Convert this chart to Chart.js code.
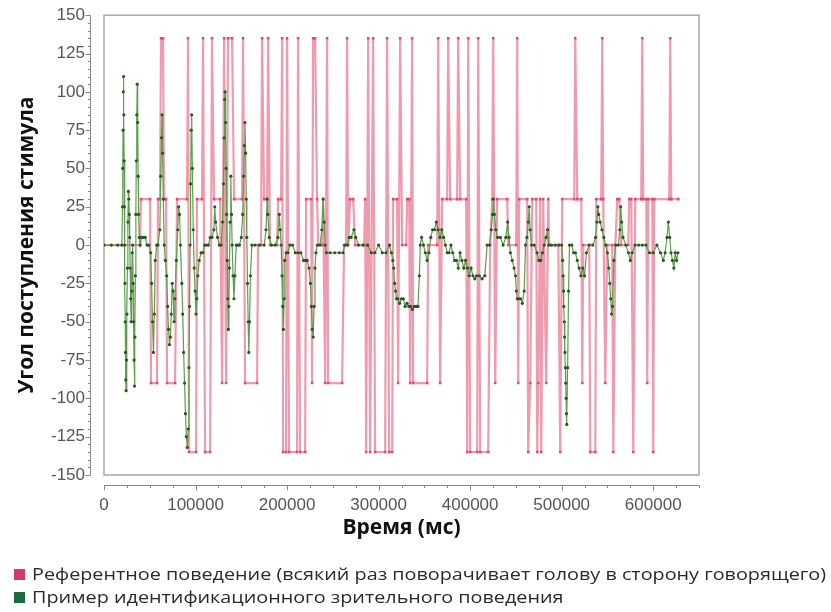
<!DOCTYPE html>
<html><head><meta charset="utf-8">
<script src="https://cdn.jsdelivr.net/npm/chart.js@4/dist/chart.umd.min.js"></script>
<style>html,body{margin:0;padding:0;background:#fff}#wrap{width:831px;height:612px;position:relative}</style>
</head><body><div id="wrap"><canvas id="c" width="831" height="612"></canvas></div>
<script>
// ---- data (time in ms, angle in degrees) ----
const seriesLabels = [
  'Референтное поведение (всякий раз поворачивает голову в сторону говорящего)',
  'Пример идентификационного зрительного поведения'
];
const xTitle = 'Время (мс)';
const yTitle = 'Угол поступления стимула';
const xTickValues = [0, 100000, 200000, 300000, 400000, 500000, 600000];
const yTickValues = [-150, -125, -100, -75, -50, -25, 0, 25, 50, 75, 100, 125, 150];

const refTimes = [0,39300,40400,50300,51400,57900,59000,61200,62300,64500,65600,67800,68900,77600,79800,90700,91800,92900,100600,101600,
  107100,108200,110400,115900,118000,120200,126800,129000,131200,133400,135500,139900,142100,150800,151900,154100,167200,168300,171600,172700,
  174900,178200,179300,181400,189100,190200,193500,194600,195600,198900,200000,202200,210900,212000,214200,219700,220800,226300,227300,228400,
  230600,232800,234000,238300,239400,241600,243700,244800,260100,262300,264500,265600,266700,268900,272200,274300,284200,285300,286400,288600,
  290700,294000,296200,307100,309300,311500,314800,315900,320200,321300,323500,325700,330100,331200,333400,334500,336600,337700,353000,354100,
  364000,365100,367200,369400,374900,376000,378200,385800,386900,389100,395700,396800,397900,400000,407700,408800,411000,419700,421900,424100,
  425200,427400,429500,440500,441600,450300,451400,452500,453600,462300,463400,465600,467800,472200,473300,474400,476500,477600,479800,483100,
  485300,486400,496300,498400,500600,513700,514800,517000,521400,522500,523500,530100,531200,536700,537800,543200,544300,545400,547600,549800,
  555200,556400,558600,560700,562900,565100,572700,573800,576000,578200,580400,586900,588000,589100,592400,593500,594600,599000,600000,601100,
  617500,618600,619700,627400];
const refAngles = [0,0,30,30,-90,-90,30,30,135,135,30,30,-90,-90,30,30,135,-135,-135,30,
  30,135,-135,-135,135,30,30,-90,135,-90,135,135,30,30,135,-90,-90,0,0,135,
  30,30,135,0,0,30,30,135,-135,-135,135,-135,-135,135,-135,-135,30,30,-90,135,
  135,30,0,0,30,-90,135,-90,-90,0,0,135,0,30,30,0,0,30,-135,135,
  -135,135,-135,-135,135,-135,-135,30,30,-90,135,0,0,30,30,-90,135,-90,-90,0,
  0,135,-90,30,30,135,30,30,135,30,30,-135,135,-135,-135,135,-135,-135,0,30,
  135,-90,30,30,0,0,135,-90,30,30,-135,-90,30,30,-135,-90,30,-135,30,-90,
  30,0,0,-135,30,30,135,30,30,-90,0,0,-135,-135,30,30,135,30,-90,0,
  0,-135,0,30,30,0,0,30,30,-135,30,30,135,30,30,-90,30,30,-135,30,
  30,135,30,30];

const gazeTimes = [0,8000,15000,19500,20200,20500,20800,21100,21400,21700,22000,22300,22600,22900,23200,23500,23800,24100,24600,25100,
  25600,26100,26600,27100,27600,28100,28600,29100,29600,30200,30800,31300,31800,32300,32800,33300,33800,34300,34800,35300,
  35800,36300,36800,37300,37800,38500,39500,41000,43000,45000,47000,49000,51000,52000,53000,54000,55000,56000,57500,59000,
  61000,62000,62800,63400,64000,64800,65800,67000,68500,69500,70500,71500,72500,73500,74500,75500,76500,77500,79000,80500,
  81500,82500,83500,85000,86000,87000,88000,89000,90000,91000,92000,92800,93500,94000,94600,95200,95800,96500,97500,98500,
  99500,100500,101500,102500,104000,106000,108000,110000,112000,114000,116000,118000,120000,121000,122000,124000,126000,128000,129500,130500,
  131200,131800,132300,132800,133400,134000,134600,135200,135800,136400,137000,137700,138500,139300,140000,141000,142000,143000,144500,146000,
  148000,150000,151500,152500,153300,154000,154700,155400,156000,156800,157500,158200,159000,160000,161500,165000,170000,175000,177000,178200,
  179000,180500,183000,187000,190000,191500,192500,193500,194500,195300,196000,196800,197500,199000,201000,203000,206000,209000,212000,215000,
  218000,220000,222000,224000,225500,226500,227500,228500,229500,230500,231500,233000,236000,238000,239400,240500,241600,243000,247000,252000,
  257000,261000,263000,266000,268000,270000,273000,275000,278000,283000,288000,292000,296000,300000,304000,308000,312000,314000,315500,316500,
  317500,318500,319500,321000,323000,325000,327000,329000,331000,333000,335000,337000,339000,341000,343000,344500,345500,347000,349000,351000,
  353000,355000,357000,359000,361000,363000,365000,367000,369000,371000,373000,375000,377000,379000,381000,383000,385000,387000,389000,391000,
  393000,395000,397000,399000,401000,403000,405000,407000,410000,413000,416000,418500,421000,423000,424500,425500,426500,428000,430000,433000,
  436000,439000,441000,442500,444000,446000,448000,449500,450500,451500,453000,455000,457000,459000,460500,462000,463500,464500,465500,467000,
  470000,473000,475000,477000,479000,481000,483000,484500,486000,489000,493000,497000,500000,501000,501500,502000,502400,502800,503200,503600,
  504000,504400,504800,505200,505600,506500,507500,508500,511000,513000,515000,517000,519000,521000,523000,525000,527000,530000,534000,537000,
  538500,539500,540500,542000,544000,546000,548000,550000,551500,552500,553500,554500,555500,557000,559000,562000,563500,564500,565500,567000,
  570000,573000,575000,577000,580000,584000,588000,592000,596000,600000,604000,608000,611000,613000,615000,616500,618000,619500,621000,622500,
  624000,625500,627000];
const gazeAngles = [0,0,0,0,25,50,75,100,110,85,55,25,0,-25,-50,-70,-88,-95,-75,-45,
  -15,15,35,30,20,5,-15,-35,-50,-30,-5,0,-25,-50,-75,-92,-60,-20,20,55,
  85,105,80,45,20,5,0,5,5,5,0,0,-5,-25,-50,-70,-45,-10,0,0,
  10,45,70,85,60,30,0,-10,-20,-40,-55,-65,-60,-45,-25,-30,-50,-35,-10,10,
  25,20,0,-25,-45,-70,-90,-110,-125,-132,-120,-80,-40,0,40,75,85,50,10,-15,
  -30,-45,-35,-20,-10,-5,-5,0,0,0,5,5,10,25,15,5,0,0,15,40,
  70,95,100,80,50,20,-10,-35,-55,-40,-15,15,45,20,0,-20,-35,-20,0,0,
  0,5,20,45,65,80,60,30,5,-25,-50,-70,-50,-20,0,0,0,0,10,30,
  20,5,0,0,5,20,10,0,-20,-40,-55,-35,-10,-5,-5,0,0,-5,-5,-5,
  -10,-10,-10,-15,-25,-40,-55,-60,-40,-15,-5,0,0,10,30,15,0,-5,-5,-5,
  -5,-5,0,0,5,5,10,5,0,0,0,-5,-5,0,-5,-5,0,-5,-10,-15,
  -25,-30,-35,-35,-38,-35,-35,-40,-38,-40,-40,-42,-40,-40,-40,-20,0,5,0,-5,
  -10,-5,5,10,10,15,10,5,10,5,0,-5,-5,0,-5,-10,-10,-15,-5,-10,
  -15,-10,-15,-20,-15,-20,-22,-20,-20,-22,-20,0,0,10,20,30,20,10,5,5,
  0,5,15,5,-5,-10,-15,-20,-30,-35,-35,-35,-38,-30,0,5,15,25,10,0,
  0,-5,-10,-10,-5,0,5,10,0,0,0,0,0,-10,-20,-30,-40,-50,-60,-70,
  -80,-90,-100,-110,-117,-80,-30,0,0,-5,-5,-10,-15,-20,-15,-20,-5,0,0,5,
  15,25,20,15,10,5,0,-5,-15,-25,-35,-45,-40,-10,0,0,10,25,15,5,
  0,-5,-10,-5,0,0,0,0,-5,-5,0,-5,-10,-5,5,15,5,-5,-10,-15,
  -5,-10,-5];

// ---- styles ----
const refLine = 'rgba(234,112,138,0.7)';
const refMark = '#e04a68';
const gazeLine = '#5c9e4e';
const gazeMark = '#2a5524';
const legendColors = ['#d23a6a', '#1d6b3d'];

const PLOT = {left: 104, top: 15, bottom: 475, right: 699};
const PAD_BOTTOM = 67;
const tickFont = {family: '"Liberation Sans", Arial, sans-serif', size: 17};

const axesPlugin = {
  id: 'jmpAxes',
  beforeDatasetsDraw(chart) {
    const {ctx, chartArea: a} = chart;
    ctx.save();
    ctx.strokeStyle = '#a8a8a8';
    ctx.lineWidth = 1.5;
    ctx.strokeRect(a.left, a.top, a.right - a.left, a.bottom - a.top);
    ctx.restore();
  },
  afterDraw(chart) {
    const {ctx, chartArea: a, scales: {x, y}} = chart;
    ctx.save();
    ctx.strokeStyle = '#888';
    ctx.lineWidth = 1;
    const ax = a.left - 14;
    ctx.beginPath();
    ctx.moveTo(ax + 0.5, y.getPixelForValue(150));
    ctx.lineTo(ax + 0.5, y.getPixelForValue(-150));
    for (let v = -150; v <= 150; v += 5) {
      const py = Math.round(y.getPixelForValue(v)) + 0.5;
      const len = v % 25 === 0 ? 5 : 2.5;
      ctx.moveTo(ax + 0.5, py);
      ctx.lineTo(ax + 0.5 - len, py);
    }
    ctx.stroke();
    const ay = a.bottom + 10;
    ctx.beginPath();
    ctx.moveTo(x.getPixelForValue(0), ay + 0.5);
    ctx.lineTo(x.getPixelForValue(650000), ay + 0.5);
    for (let v = 0; v <= 650000; v += 25000) {
      const px = Math.round(x.getPixelForValue(v)) + 0.5;
      const len = v % 100000 === 0 ? 5 : 2.5;
      ctx.moveTo(px, ay + 0.5);
      ctx.lineTo(px, ay + 0.5 + len);
    }
    ctx.stroke();
    ctx.restore();
  }
};

const legendPlugin = {
  id: 'bottomLegend',
  afterDraw(chart) {
    const {ctx} = chart;
    const rows = [575, 598];
    ctx.save();
    ctx.font = '16px "Open Sans"';
    ctx.textBaseline = 'middle';
    const sx = 794 / ctx.measureText(seriesLabels[0]).width;
    chart.data.datasets.forEach((ds, i) => {
      const yy = rows[i];
      ctx.fillStyle = legendColors[i];
      ctx.fillRect(14, yy - 6, 11, 11);
      ctx.fillStyle = '#2a2a2a';
      ctx.save();
      ctx.translate(32, yy);
      ctx.scale(sx, 1);
      ctx.fillText(ds.label, 0, 0);
      ctx.restore();
    });
    ctx.restore();
  }
};

new Chart(document.getElementById('c'), {
  type: 'scatter',
  data: {
    datasets: [
      {
        label: seriesLabels[0],
        data: refTimes.map((t, i) => ({x: t, y: refAngles[i]})),
        showLine: true,
        borderColor: refLine,
        borderWidth: 2.2,
        pointStyle: 'rect',
        pointRadius: 1.8,
        pointBackgroundColor: refMark,
        pointBorderWidth: 0,
        order: 2
      },
      {
        label: seriesLabels[1],
        data: gazeTimes.map((t, i) => ({x: t, y: gazeAngles[i]})),
        showLine: true,
        borderColor: gazeLine,
        borderWidth: 1.2,
        pointRadius: 1.6,
        pointBackgroundColor: gazeMark,
        pointBorderWidth: 0,
        order: 1
      }
    ]
  },
  options: {
    responsive: false,
    animation: false,
    devicePixelRatio: 1,
    layout: {padding: {left: 4, top: PLOT.top, right: 831 - PLOT.right, bottom: PAD_BOTTOM}},
    plugins: {legend: {display: false}, tooltip: {enabled: false}},
    scales: {
      x: {
        type: 'linear',
        min: 0, max: 650000,
        afterBuildTicks(s) { s.ticks = xTickValues.map(v => ({value: v})); },
        afterFit(s) { s.height = 612 - PAD_BOTTOM - PLOT.bottom; },
        ticks: {
          includeBounds: false,
          padding: 5,
          maxRotation: 0,
          autoSkip: false,
          color: '#555',
          font: tickFont,
          callback: v => String(v)
        },
        grid: {drawOnChartArea: false, drawTicks: true, tickLength: 15, tickColor: 'rgba(0,0,0,0)'},
        border: {display: false},
        title: {display: true, text: xTitle, color: '#111', padding: {top: 0, bottom: 4},
          font: {family: '"Open Sans", sans-serif', size: 21, weight: 'bold'}}
      },
      y: {
        min: -150, max: 150,
        afterBuildTicks(s) { s.ticks = yTickValues.map(v => ({value: v})); },
        afterFit(s) { s.width = PLOT.left - 4; },
        ticks: {
          padding: 5,
          autoSkip: false,
          color: '#555',
          font: tickFont
        },
        grid: {drawOnChartArea: false, drawTicks: true, tickLength: 14, tickColor: 'rgba(0,0,0,0)'},
        border: {display: false},
        title: {display: true, text: yTitle, color: '#111', padding: {top: 10, bottom: 0},
          font: {family: '"Open Sans", sans-serif', size: 21, weight: 'bold'}}
      }
    }
  },
  plugins: [axesPlugin, legendPlugin]
});
</script>
</body></html>
